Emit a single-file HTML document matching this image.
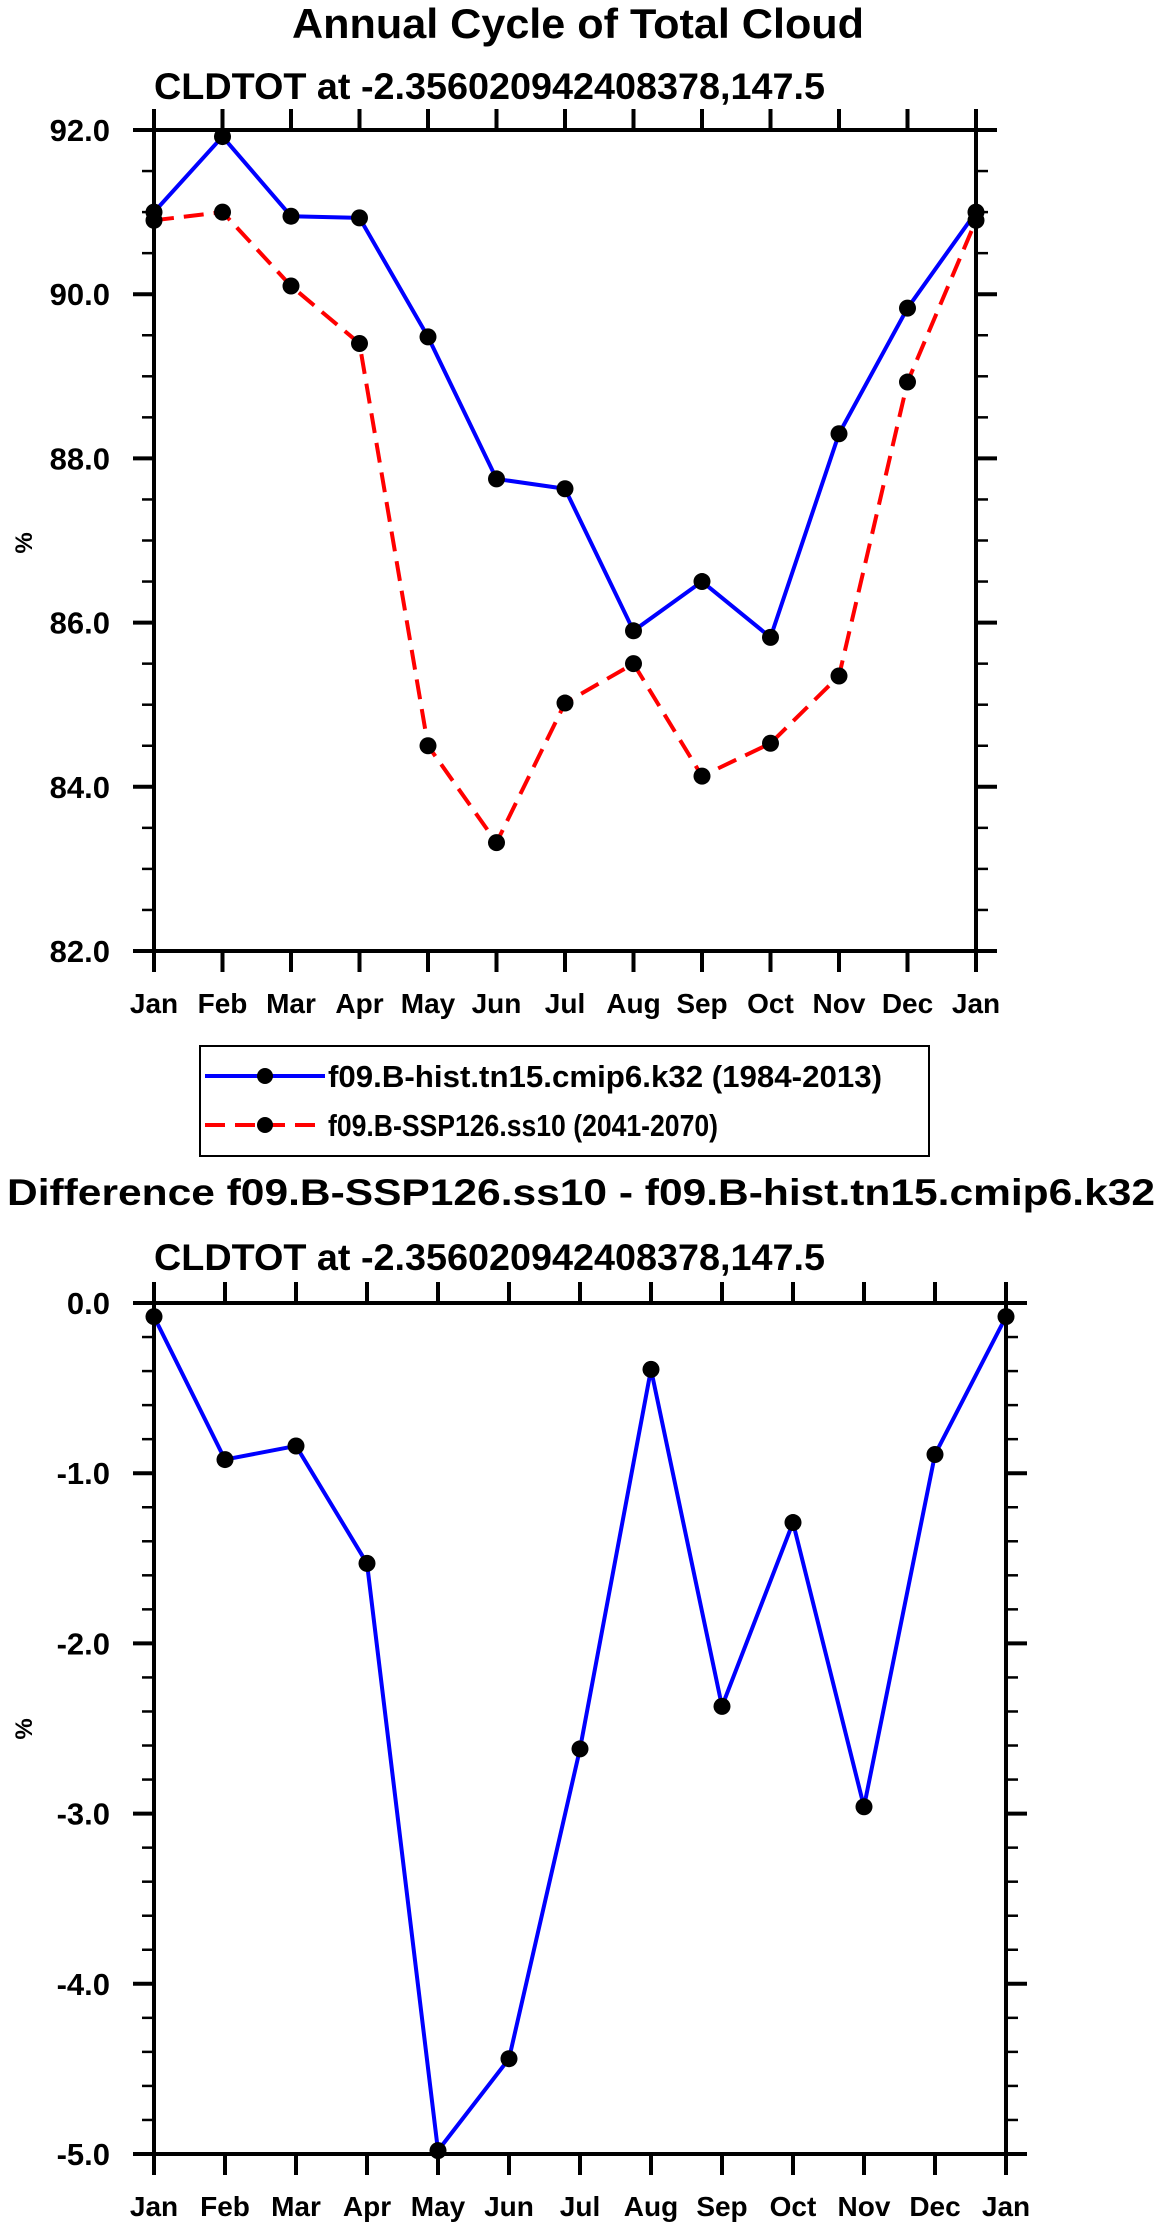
<!DOCTYPE html>
<html><head><meta charset="utf-8"><style>
html,body{margin:0;padding:0;background:#fff;}
svg{display:block;font-family:"Liberation Sans",Arial,sans-serif;font-weight:bold;}
</style></head><body>
<svg id="chart" width="1161" height="2231" viewBox="0 0 1161 2231" xmlns="http://www.w3.org/2000/svg">
<text x="292" y="38" font-size="42" textLength="572" lengthAdjust="spacingAndGlyphs">Annual Cycle of Total Cloud</text>
<text x="154" y="99" font-size="37" textLength="671" lengthAdjust="spacingAndGlyphs">CLDTOT at -2.356020942408378,147.5</text>
<text x="7" y="1205" font-size="37" textLength="1148" lengthAdjust="spacingAndGlyphs">Difference f09.B-SSP126.ss10 - f09.B-hist.tn15.cmip6.k32</text>
<text x="154" y="1270" font-size="37" textLength="671" lengthAdjust="spacingAndGlyphs">CLDTOT at -2.356020942408378,147.5</text>
<g id="top"></g>
<g id="bot"></g>
<g>
<rect x="200" y="1046" width="729" height="110" fill="none" stroke="#000" stroke-width="2"/>
<line x1="205" y1="1076" x2="325" y2="1076" stroke="#0000ff" stroke-width="4"/>
<circle cx="265" cy="1076" r="8" fill="#000"/>
<text x="328" y="1087" font-size="31" textLength="554" lengthAdjust="spacingAndGlyphs">f09.B-hist.tn15.cmip6.k32 (1984-2013)</text>
<line x1="205" y1="1125" x2="325" y2="1125" stroke="#ff0000" stroke-width="4" stroke-dasharray="20,10"/>
<circle cx="265" cy="1125" r="8" fill="#000"/>
<text x="328" y="1136" font-size="31" textLength="390" lengthAdjust="spacingAndGlyphs">f09.B-SSP126.ss10 (2041-2070)</text>
</g>
</svg>
<script>
const months = ["Jan","Feb","Mar","Apr","May","Jun","Jul","Aug","Sep","Oct","Nov","Dec","Jan"];
const histValues = [91.0,91.92,90.95,90.93,89.48,87.75,87.63,85.9,86.5,85.82,88.3,89.83,91.0];
const sspValues = [90.9,91.0,90.1,89.4,84.5,83.32,85.02,85.5,84.13,84.53,85.35,88.93,90.9];
const diffValues = [-0.08,-0.92,-0.84,-1.53,-4.98,-4.44,-2.62,-0.39,-2.37,-1.29,-2.96,-0.89,-0.08];
const topTicks = ["82.0","84.0","86.0","88.0","90.0","92.0"];
const botTicks = ["-5.0","-4.0","-3.0","-2.0","-1.0","0.0"];

const NS="http://www.w3.org/2000/svg";
function mk(parent,tag,attrs){const e=document.createElementNS(NS,tag);for(const k in attrs)e.setAttribute(k,attrs[k]);parent.appendChild(e);return e;}

function drawPanel(g,cfg){
  const {L,R,T,B,ymin,ymax,ticks,minorStep,series,pct}=cfg;
  const xs=i=>L+(R-L)*i/(months.length-1);
  const ys=v=>B-(v-ymin)/(ymax-ymin)*(B-T);
  series.forEach(s=>{
    const pts=s.values.map((v,i)=>xs(i)+","+ys(v)).join(" ");
    const pl=mk(g,"polyline",{points:pts,fill:"none",stroke:s.color,"stroke-width":4,"stroke-linejoin":"round"});
    
    
    if(s.dash)pl.setAttribute("stroke-dasharray",s.dash);
    s.values.forEach((v,i)=>{
      const c=mk(g,"circle",{cx:xs(i),cy:ys(v),r:8.5,fill:"#000"});
      
      
    });
  });
  const fr=mk(g,"rect",{x:L,y:T,width:R-L,height:B-T,fill:"none",stroke:"#000","stroke-width":4});
  
  
  months.forEach((m,i)=>{
    const x=xs(i);
    mk(g,"line",{x1:x,y1:B,x2:x,y2:B+21,stroke:"#000","stroke-width":4});
    mk(g,"line",{x1:x,y1:T,x2:x,y2:T-21,stroke:"#000","stroke-width":4});
    const t=mk(g,"text",{x:x,y:B+62,"font-size":28,"text-anchor":"middle"});
    t.textContent=m;
    
    
  });
  const nMinor=Math.round((ymax-ymin)/minorStep);
  for(let k=0;k<=nMinor;k++){
    const y=ys(ymin+k*minorStep);
    mk(g,"line",{x1:L-12,y1:y,x2:L,y2:y,stroke:"#000","stroke-width":2.5});
    mk(g,"line",{x1:R,y1:y,x2:R+12,y2:y,stroke:"#000","stroke-width":2.5});
  }
  ticks.forEach((lab,k)=>{
    const v=parseFloat(lab);const y=ys(v);
    mk(g,"line",{x1:L-21,y1:y,x2:L,y2:y,stroke:"#000","stroke-width":4});
    mk(g,"line",{x1:R,y1:y,x2:R+21,y2:y,stroke:"#000","stroke-width":4});
    const t=mk(g,"text",{x:110,y:y+11,"font-size":31,"text-anchor":"end"});
    t.textContent=lab;
    
    
  });
  const yt=mk(g,"text",{x:0,y:0,"font-size":24,"text-anchor":"middle",transform:"translate(32,"+pct+") rotate(-90)"});
  yt.textContent="%";
  
  
}
drawPanel(document.getElementById("top"),{L:154,R:976,T:130,B:951,ymin:82,ymax:92,ticks:topTicks,minorStep:0.5,pct:543,
  series:[{name:"hist",values:histValues,color:"#0000ff"},{name:"ssp",values:sspValues,color:"#ff0000",dash:"20,10"}]});
drawPanel(document.getElementById("bot"),{L:154,R:1006,T:1303,B:2154,ymin:-5,ymax:0,ticks:botTicks,minorStep:0.2,pct:1729,
  series:[{name:"diff",values:diffValues,color:"#0000ff"}]});
</script>
</body></html>
